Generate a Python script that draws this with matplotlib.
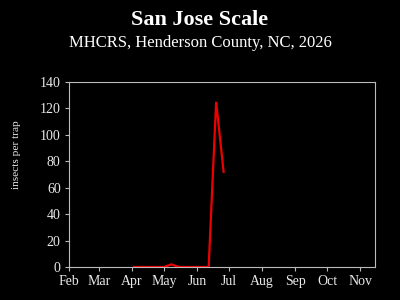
import matplotlib
matplotlib.use("Agg")
import matplotlib.pyplot as plt
import datetime as dt

title = "San Jose Scale"
subtitle = "MHCRS, Henderson County, NC, 2026"
ylabel = "insects per trap"

dates = ["2026-04-03", "2026-04-10", "2026-04-17", "2026-04-24", "2026-05-01",
         "2026-05-08", "2026-05-15", "2026-05-22", "2026-05-29", "2026-06-05",
         "2026-06-12", "2026-06-19", "2026-06-26"]
counts = [0, 0, 0, 0, 0, 2, 0, 0, 0, 0, 0, 125, 72]

month_labels = ["Feb", "Mar", "Apr", "May", "Jun", "Jul", "Aug", "Sep", "Oct", "Nov"]
month_nums = [2, 3, 4, 5, 6, 7, 8, 9, 10, 11]
yticks = [0, 20, 40, 60, 80, 100, 120, 140]

plt.rcParams['font.family'] = ['Liberation Serif', 'DejaVu Serif']

fig = plt.figure(figsize=(4, 3), dpi=100, facecolor='black')
ax = fig.add_axes([0.1725, 0.11, 0.765, 0.6167], facecolor='black')

def doy(d):
    return d.timetuple().tm_yday

xs = [doy(dt.date.fromisoformat(s)) for s in dates]
ax.plot(xs, counts, color='#ee0000', lw=1.6, solid_joinstyle='miter')

tick_x = [doy(dt.date(2026, m, 1)) for m in month_nums]
ax.set_xticks(tick_x)
ax.set_xticklabels(month_labels)
ax.set_xlim(doy(dt.date(2026, 2, 1)), doy(dt.date(2026, 11, 15)))
ax.set_yticks(yticks)
ax.set_ylim(0, 140)

for s in ax.spines.values():
    s.set_color('#bbbbbb')
    s.set_linewidth(0.8)
ax.tick_params(colors='#bbbbbb', labelcolor='#e8e8e8', labelsize=10, length=3, width=0.8, direction='out', pad=3)

fig.text(16.5 / 400, 1 - 155 / 300, ylabel, rotation=90, ha='center', va='center',
         color='#e8e8e8', fontsize=8.2)

fig.text(0.5, 0.934, title, ha='center', va='center', color='white', fontsize=16, fontweight='bold')
fig.text(0.5, 0.857, subtitle, ha='center', va='center', color='white', fontsize=12)

fig.savefig("out.png", dpi=100, facecolor='black')
